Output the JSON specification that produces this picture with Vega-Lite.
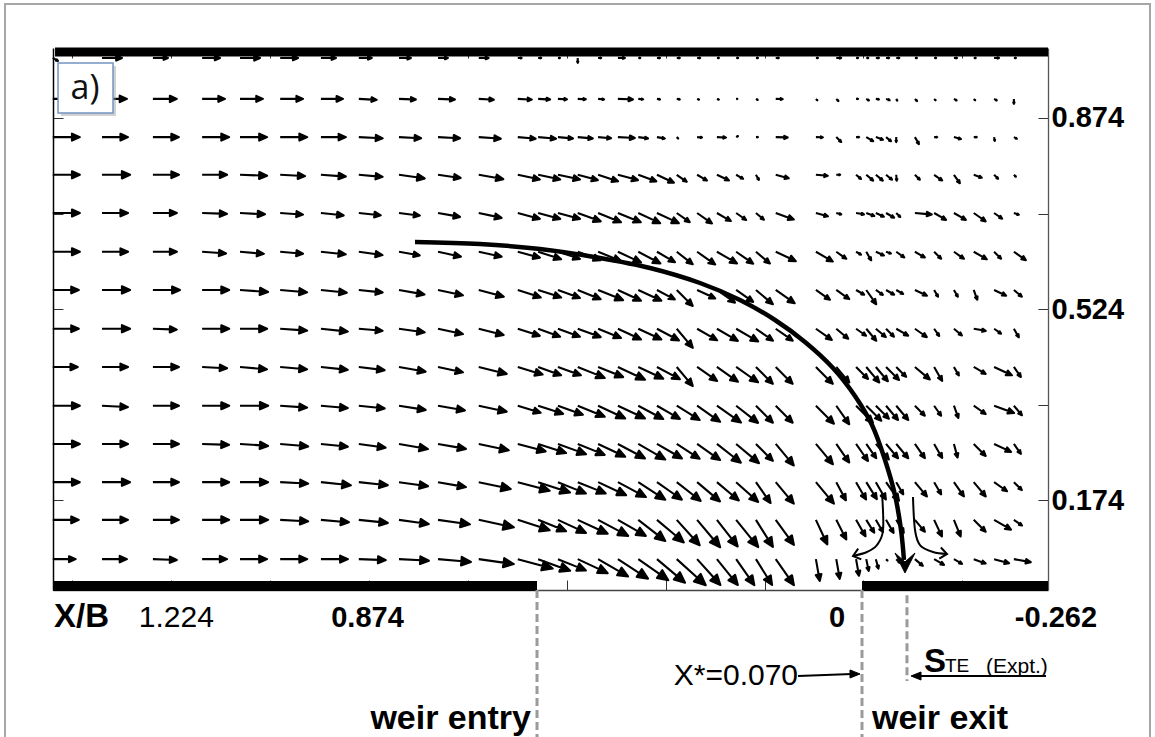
{
"$schema":"https://vega.github.io/schema/vega-lite/v6.json",
"width":995,"height":542,
"autosize":{"type":"none"},
"padding":{"left":53,"top":48,"right":107,"bottom":147},
"background":"white",
"config":{"view":{"stroke":null},"font":"Liberation Sans"},
"resolve":{"axis":{"x":"independent","y":"independent"}},
"encoding":{
 "x":{"field":"x","type":"quantitative","scale":{"domain":[-0.3263,1.4326],"reverse":true,"nice":false,"zero":false},"axis":null},
 "y":{"field":"y","type":"quantitative","scale":{"domain":[0.0095,1.0022],"nice":false,"zero":false},"axis":null}
},
"layer":[
{"data":{"values":[{"x":1.5174,"x2":-0.5066,"y":1.0828,"y2":-0.3}]},
 "mark":{"type":"rect","filled":false,"stroke":"#a6a6a6","strokeWidth":2},
 "encoding":{"x2":{"field":"x2"},"y2":{"field":"y2"}}},
{"data":{"values":[
{"x":1.433,"y":0.984,"v":0.23,"a":30},{"x":1.346,"y":0.984,"v":0.77,"a":0},{"x":1.256,"y":0.984,"v":0.58,"a":0},{"x":1.169,"y":0.984,"v":0.69,"a":0},{"x":1.102,"y":0.984,"v":0.77,"a":0},{"x":1.031,"y":0.984,"v":0.69,"a":0},{"x":0.959,"y":0.984,"v":0.58,"a":0},{"x":0.892,"y":0.984,"v":0.5,"a":0},{"x":0.821,"y":0.984,"v":0.46,"a":0},{"x":0.752,"y":0.984,"v":0.38,"a":0},{"x":0.68,"y":0.984,"v":0.38,"a":0},{"x":0.611,"y":0.984,"v":0.15,"a":0},{"x":0.575,"y":0.984,"v":0.12,"a":0},{"x":0.54,"y":0.984,"v":0.08,"a":0},{"x":0.505,"y":0.984,"v":0.19,"a":90},{"x":0.469,"y":0.984,"v":0.12,"a":0},{"x":0.434,"y":0.984,"v":0.27,"a":0},{"x":0.398,"y":0.984,"v":0.08,"a":0},{"x":0.365,"y":0.984,"v":0.12,"a":0},{"x":0.33,"y":0.984,"v":0.12,"a":0},{"x":0.294,"y":0.984,"v":0.12,"a":0},{"x":0.259,"y":0.984,"v":0.08,"a":0},{"x":0.225,"y":0.984,"v":0.08,"a":0},{"x":0.19,"y":0.984,"v":0.08,"a":0},{"x":0.155,"y":0.984,"v":0.12,"a":0},{"x":0.084,"y":0.984,"v":0.08,"a":0},{"x":0.048,"y":0.984,"v":0.19,"a":0},{"x":0.013,"y":0.984,"v":0.08,"a":0},{"x":-0.005,"y":0.984,"v":0.08,"a":0},{"x":-0.022,"y":0.984,"v":0.12,"a":0},{"x":-0.04,"y":0.984,"v":0.12,"a":0},{"x":-0.058,"y":0.984,"v":0.12,"a":0},{"x":-0.091,"y":0.984,"v":0.08,"a":0},{"x":-0.125,"y":0.984,"v":0.08,"a":0},{"x":-0.16,"y":0.984,"v":0.12,"a":0},{"x":-0.195,"y":0.984,"v":0.08,"a":0},{"x":-0.231,"y":0.984,"v":0.19,"a":0},{"x":-0.266,"y":0.984,"v":0.08,"a":0},
{"x":1.433,"y":0.909,"v":1.0,"a":0},{"x":1.346,"y":0.909,"v":0.96,"a":0},{"x":1.256,"y":0.909,"v":0.92,"a":0},{"x":1.169,"y":0.909,"v":0.88,"a":0},{"x":1.102,"y":0.909,"v":0.88,"a":0},{"x":1.031,"y":0.909,"v":0.88,"a":0},{"x":0.959,"y":0.909,"v":0.85,"a":0},{"x":0.892,"y":0.909,"v":0.69,"a":3},{"x":0.821,"y":0.909,"v":0.65,"a":2},{"x":0.752,"y":0.909,"v":0.65,"a":2},{"x":0.68,"y":0.909,"v":0.58,"a":3},{"x":0.611,"y":0.909,"v":0.54,"a":3},{"x":0.575,"y":0.909,"v":0.46,"a":3},{"x":0.54,"y":0.909,"v":0.35,"a":3},{"x":0.505,"y":0.909,"v":0.31,"a":3},{"x":0.469,"y":0.909,"v":0.23,"a":5},{"x":0.434,"y":0.909,"v":0.58,"a":2},{"x":0.398,"y":0.909,"v":0.19,"a":5},{"x":0.365,"y":0.909,"v":0.12,"a":10},{"x":0.33,"y":0.909,"v":0.12,"a":10},{"x":0.294,"y":0.909,"v":0.08,"a":20},{"x":0.259,"y":0.909,"v":0.08,"a":20},{"x":0.225,"y":0.909,"v":0.05,"a":0},{"x":0.19,"y":0.909,"v":0.08,"a":30},{"x":0.155,"y":0.909,"v":0.27,"a":2},{"x":0.084,"y":0.909,"v":0.08,"a":45},{"x":0.048,"y":0.909,"v":0.12,"a":45},{"x":0.013,"y":0.909,"v":0.08,"a":0},{"x":-0.005,"y":0.909,"v":0.12,"a":30},{"x":-0.022,"y":0.909,"v":0.12,"a":10},{"x":-0.04,"y":0.909,"v":0.15,"a":20},{"x":-0.058,"y":0.909,"v":0.08,"a":60},{"x":-0.091,"y":0.909,"v":0.12,"a":45},{"x":-0.125,"y":0.909,"v":0.08,"a":45},{"x":-0.16,"y":0.909,"v":0.12,"a":30},{"x":-0.195,"y":0.909,"v":0.08,"a":45},{"x":-0.231,"y":0.909,"v":0.12,"a":30},{"x":-0.266,"y":0.909,"v":0.19,"a":90},
{"x":1.433,"y":0.839,"v":1.04,"a":0},{"x":1.346,"y":0.839,"v":1.0,"a":0},{"x":1.256,"y":0.839,"v":1.0,"a":0},{"x":1.169,"y":0.839,"v":1.04,"a":0},{"x":1.102,"y":0.839,"v":1.04,"a":0},{"x":1.031,"y":0.839,"v":1.04,"a":0},{"x":0.959,"y":0.839,"v":0.96,"a":0},{"x":0.892,"y":0.839,"v":0.92,"a":3},{"x":0.821,"y":0.839,"v":0.85,"a":3},{"x":0.752,"y":0.839,"v":0.85,"a":3},{"x":0.68,"y":0.839,"v":0.85,"a":4},{"x":0.611,"y":0.839,"v":0.69,"a":5},{"x":0.575,"y":0.839,"v":0.69,"a":5},{"x":0.54,"y":0.839,"v":0.58,"a":5},{"x":0.505,"y":0.839,"v":0.58,"a":5},{"x":0.469,"y":0.839,"v":0.5,"a":5},{"x":0.434,"y":0.839,"v":0.65,"a":3},{"x":0.398,"y":0.839,"v":0.38,"a":8},{"x":0.365,"y":0.839,"v":0.31,"a":10},{"x":0.33,"y":0.839,"v":0.08,"a":45},{"x":0.294,"y":0.839,"v":0.19,"a":5},{"x":0.259,"y":0.839,"v":0.35,"a":3},{"x":0.225,"y":0.839,"v":0.08,"a":-30},{"x":0.19,"y":0.839,"v":0.08,"a":0},{"x":0.155,"y":0.839,"v":0.46,"a":2},{"x":0.084,"y":0.839,"v":0.27,"a":2},{"x":0.048,"y":0.839,"v":0.27,"a":45},{"x":0.013,"y":0.839,"v":0.12,"a":0},{"x":-0.005,"y":0.839,"v":0.31,"a":30},{"x":-0.022,"y":0.839,"v":0.29,"a":20},{"x":-0.04,"y":0.839,"v":0.25,"a":40},{"x":-0.058,"y":0.839,"v":0.19,"a":90},{"x":-0.091,"y":0.839,"v":0.31,"a":60},{"x":-0.125,"y":0.839,"v":0.12,"a":0},{"x":-0.16,"y":0.839,"v":0.28,"a":15},{"x":-0.195,"y":0.839,"v":0.12,"a":0},{"x":-0.231,"y":0.839,"v":0.15,"a":80},{"x":-0.266,"y":0.839,"v":0.13,"a":30},
{"x":1.433,"y":0.77,"v":1.04,"a":0},{"x":1.346,"y":0.77,"v":1.08,"a":0},{"x":1.256,"y":0.77,"v":1.0,"a":0},{"x":1.169,"y":0.77,"v":0.96,"a":0},{"x":1.102,"y":0.77,"v":1.04,"a":2},{"x":1.031,"y":0.77,"v":0.96,"a":3},{"x":0.959,"y":0.77,"v":0.96,"a":4},{"x":0.892,"y":0.77,"v":0.92,"a":5},{"x":0.821,"y":0.77,"v":1.0,"a":8},{"x":0.752,"y":0.77,"v":0.88,"a":8},{"x":0.68,"y":0.77,"v":0.96,"a":10},{"x":0.611,"y":0.77,"v":0.87,"a":12},{"x":0.575,"y":0.77,"v":0.87,"a":12},{"x":0.54,"y":0.77,"v":0.87,"a":12},{"x":0.505,"y":0.77,"v":0.8,"a":15},{"x":0.469,"y":0.77,"v":0.81,"a":18},{"x":0.434,"y":0.77,"v":0.8,"a":15},{"x":0.398,"y":0.77,"v":0.74,"a":20},{"x":0.365,"y":0.77,"v":0.72,"a":25},{"x":0.33,"y":0.77,"v":0.47,"a":35},{"x":0.294,"y":0.77,"v":0.44,"a":30},{"x":0.259,"y":0.77,"v":0.51,"a":25},{"x":0.225,"y":0.77,"v":0.31,"a":30},{"x":0.19,"y":0.77,"v":0.23,"a":60},{"x":0.155,"y":0.77,"v":0.52,"a":15},{"x":0.084,"y":0.77,"v":0.46,"a":5},{"x":0.048,"y":0.77,"v":0.15,"a":0},{"x":0.013,"y":0.77,"v":0.25,"a":40},{"x":-0.005,"y":0.77,"v":0.35,"a":40},{"x":-0.022,"y":0.77,"v":0.35,"a":40},{"x":-0.04,"y":0.77,"v":0.3,"a":40},{"x":-0.058,"y":0.77,"v":0.23,"a":85},{"x":-0.091,"y":0.77,"v":0.27,"a":45},{"x":-0.125,"y":0.77,"v":0.38,"a":35},{"x":-0.16,"y":0.77,"v":0.4,"a":55},{"x":-0.195,"y":0.77,"v":0.33,"a":20},{"x":-0.231,"y":0.77,"v":0.22,"a":45},{"x":-0.266,"y":0.77,"v":0.11,"a":45},
{"x":1.433,"y":0.7,"v":1.04,"a":0},{"x":1.346,"y":0.7,"v":1.0,"a":0},{"x":1.256,"y":0.7,"v":0.92,"a":0},{"x":1.169,"y":0.7,"v":0.96,"a":2},{"x":1.102,"y":0.7,"v":0.96,"a":3},{"x":1.031,"y":0.7,"v":0.88,"a":4},{"x":0.959,"y":0.7,"v":0.88,"a":6},{"x":0.892,"y":0.7,"v":0.85,"a":6},{"x":0.821,"y":0.7,"v":0.81,"a":7},{"x":0.752,"y":0.7,"v":0.86,"a":10},{"x":0.68,"y":0.7,"v":0.9,"a":12},{"x":0.611,"y":0.7,"v":0.88,"a":15},{"x":0.575,"y":0.7,"v":0.88,"a":15},{"x":0.54,"y":0.7,"v":0.88,"a":15},{"x":0.505,"y":0.7,"v":0.94,"a":20},{"x":0.469,"y":0.7,"v":0.95,"a":22},{"x":0.434,"y":0.7,"v":0.95,"a":22},{"x":0.398,"y":0.7,"v":0.93,"a":25},{"x":0.365,"y":0.7,"v":0.93,"a":25},{"x":0.33,"y":0.7,"v":0.61,"a":35},{"x":0.294,"y":0.7,"v":0.7,"a":35},{"x":0.259,"y":0.7,"v":0.62,"a":30},{"x":0.225,"y":0.7,"v":0.47,"a":35},{"x":0.19,"y":0.7,"v":0.4,"a":40},{"x":0.155,"y":0.7,"v":0.74,"a":20},{"x":0.084,"y":0.7,"v":0.48,"a":15},{"x":0.048,"y":0.7,"v":0.2,"a":15},{"x":0.013,"y":0.7,"v":0.31,"a":10},{"x":-0.005,"y":0.7,"v":0.33,"a":20},{"x":-0.022,"y":0.7,"v":0.34,"a":25},{"x":-0.04,"y":0.7,"v":0.36,"a":30},{"x":-0.058,"y":0.7,"v":0.22,"a":45},{"x":-0.091,"y":0.7,"v":0.65,"a":5},{"x":-0.125,"y":0.7,"v":0.53,"a":30},{"x":-0.16,"y":0.7,"v":0.53,"a":30},{"x":-0.195,"y":0.7,"v":0.56,"a":35},{"x":-0.231,"y":0.7,"v":0.38,"a":35},{"x":-0.266,"y":0.7,"v":0.2,"a":20},
{"x":1.433,"y":0.629,"v":1.04,"a":0},{"x":1.346,"y":0.629,"v":1.0,"a":0},{"x":1.256,"y":0.629,"v":0.92,"a":0},{"x":1.169,"y":0.629,"v":0.92,"a":4},{"x":1.102,"y":0.629,"v":0.92,"a":5},{"x":1.031,"y":0.629,"v":0.88,"a":5},{"x":0.959,"y":0.629,"v":0.96,"a":6},{"x":0.892,"y":0.629,"v":0.92,"a":8},{"x":0.821,"y":0.629,"v":0.81,"a":10},{"x":0.752,"y":0.629,"v":0.9,"a":12},{"x":0.68,"y":0.629,"v":0.9,"a":12},{"x":0.611,"y":0.629,"v":0.88,"a":15},{"x":0.575,"y":0.629,"v":0.93,"a":18},{"x":0.54,"y":0.629,"v":0.89,"a":18},{"x":0.505,"y":0.629,"v":0.94,"a":20},{"x":0.469,"y":0.629,"v":0.95,"a":22},{"x":0.434,"y":0.629,"v":0.98,"a":25},{"x":0.398,"y":0.629,"v":0.96,"a":28},{"x":0.365,"y":0.629,"v":0.8,"a":30},{"x":0.33,"y":0.629,"v":0.78,"a":38},{"x":0.294,"y":0.629,"v":0.85,"a":35},{"x":0.259,"y":0.629,"v":0.89,"a":30},{"x":0.225,"y":0.629,"v":0.8,"a":35},{"x":0.19,"y":0.629,"v":0.7,"a":40},{"x":0.155,"y":0.629,"v":0.85,"a":25},{"x":0.084,"y":0.629,"v":0.75,"a":30},{"x":0.048,"y":0.629,"v":0.47,"a":35},{"x":0.013,"y":0.629,"v":0.22,"a":30},{"x":-0.005,"y":0.629,"v":0.38,"a":60},{"x":-0.022,"y":0.629,"v":0.34,"a":25},{"x":-0.04,"y":0.629,"v":0.2,"a":20},{"x":-0.058,"y":0.629,"v":0.38,"a":35},{"x":-0.091,"y":0.629,"v":0.44,"a":30},{"x":-0.125,"y":0.629,"v":0.38,"a":45},{"x":-0.16,"y":0.629,"v":0.47,"a":35},{"x":-0.195,"y":0.629,"v":0.58,"a":30},{"x":-0.231,"y":0.629,"v":0.38,"a":45},{"x":-0.266,"y":0.629,"v":0.56,"a":35},
{"x":1.433,"y":0.559,"v":1.0,"a":0},{"x":1.346,"y":0.559,"v":1.08,"a":0},{"x":1.256,"y":0.559,"v":1.04,"a":0},{"x":1.169,"y":0.559,"v":1.04,"a":0},{"x":1.102,"y":0.559,"v":1.08,"a":4},{"x":1.031,"y":0.559,"v":1.04,"a":5},{"x":0.959,"y":0.559,"v":1.0,"a":6},{"x":0.892,"y":0.559,"v":0.92,"a":6},{"x":0.821,"y":0.559,"v":1.0,"a":10},{"x":0.752,"y":0.559,"v":0.98,"a":12},{"x":0.68,"y":0.559,"v":1.0,"a":15},{"x":0.611,"y":0.559,"v":0.93,"a":18},{"x":0.575,"y":0.559,"v":0.93,"a":18},{"x":0.54,"y":0.559,"v":0.9,"a":20},{"x":0.505,"y":0.559,"v":0.95,"a":22},{"x":0.469,"y":0.559,"v":1.04,"a":22},{"x":0.434,"y":0.559,"v":0.98,"a":25},{"x":0.398,"y":0.559,"v":0.98,"a":25},{"x":0.365,"y":0.559,"v":0.78,"a":28},{"x":0.33,"y":0.559,"v":0.87,"a":45},{"x":0.294,"y":0.559,"v":0.77,"a":25},{"x":0.259,"y":0.559,"v":0.85,"a":35},{"x":0.225,"y":0.559,"v":0.8,"a":35},{"x":0.19,"y":0.559,"v":0.85,"a":40},{"x":0.155,"y":0.559,"v":0.89,"a":35},{"x":0.084,"y":0.559,"v":0.66,"a":35},{"x":0.048,"y":0.559,"v":0.61,"a":35},{"x":0.013,"y":0.559,"v":0.36,"a":30},{"x":-0.005,"y":0.559,"v":0.67,"a":55},{"x":-0.022,"y":0.559,"v":0.33,"a":35},{"x":-0.04,"y":0.559,"v":0.36,"a":30},{"x":-0.058,"y":0.559,"v":0.31,"a":30},{"x":-0.091,"y":0.559,"v":0.51,"a":25},{"x":-0.125,"y":0.559,"v":0.3,"a":60},{"x":-0.16,"y":0.559,"v":0.3,"a":60},{"x":-0.195,"y":0.559,"v":0.4,"a":70},{"x":-0.231,"y":0.559,"v":0.51,"a":25},{"x":-0.266,"y":0.559,"v":0.4,"a":40},
{"x":1.433,"y":0.488,"v":1.0,"a":0},{"x":1.346,"y":0.488,"v":1.08,"a":0},{"x":1.256,"y":0.488,"v":0.92,"a":2},{"x":1.169,"y":0.488,"v":1.04,"a":0},{"x":1.102,"y":0.488,"v":1.04,"a":0},{"x":1.031,"y":0.488,"v":1.04,"a":4},{"x":0.959,"y":0.488,"v":1.04,"a":6},{"x":0.892,"y":0.488,"v":0.92,"a":5},{"x":0.821,"y":0.488,"v":1.0,"a":8},{"x":0.752,"y":0.488,"v":0.98,"a":12},{"x":0.68,"y":0.488,"v":0.99,"a":14},{"x":0.611,"y":0.488,"v":0.89,"a":18},{"x":0.575,"y":0.488,"v":0.9,"a":20},{"x":0.54,"y":0.488,"v":0.9,"a":20},{"x":0.505,"y":0.488,"v":0.94,"a":20},{"x":0.469,"y":0.488,"v":0.95,"a":22},{"x":0.434,"y":0.488,"v":0.98,"a":25},{"x":0.398,"y":0.488,"v":0.98,"a":25},{"x":0.365,"y":0.488,"v":0.96,"a":28},{"x":0.33,"y":0.488,"v":0.96,"a":50},{"x":0.294,"y":0.488,"v":0.89,"a":30},{"x":0.259,"y":0.488,"v":0.93,"a":30},{"x":0.225,"y":0.488,"v":0.98,"a":30},{"x":0.19,"y":0.488,"v":0.8,"a":35},{"x":0.155,"y":0.488,"v":0.8,"a":35},{"x":0.084,"y":0.488,"v":0.75,"a":35},{"x":0.048,"y":0.488,"v":0.6,"a":40},{"x":0.013,"y":0.488,"v":0.47,"a":35},{"x":-0.005,"y":0.488,"v":0.6,"a":50},{"x":-0.022,"y":0.488,"v":0.5,"a":40},{"x":-0.04,"y":0.488,"v":0.43,"a":45},{"x":-0.058,"y":0.488,"v":0.53,"a":30},{"x":-0.091,"y":0.488,"v":0.56,"a":35},{"x":-0.125,"y":0.488,"v":0.34,"a":55},{"x":-0.16,"y":0.488,"v":0.4,"a":40},{"x":-0.195,"y":0.488,"v":0.47,"a":10},{"x":-0.231,"y":0.488,"v":0.33,"a":35},{"x":-0.266,"y":0.488,"v":0.38,"a":60},
{"x":1.433,"y":0.418,"v":0.96,"a":0},{"x":1.346,"y":0.418,"v":1.0,"a":0},{"x":1.256,"y":0.418,"v":1.0,"a":0},{"x":1.169,"y":0.418,"v":0.96,"a":3},{"x":1.102,"y":0.418,"v":1.04,"a":5},{"x":1.031,"y":0.418,"v":1.04,"a":5},{"x":0.959,"y":0.418,"v":1.04,"a":6},{"x":0.892,"y":0.418,"v":1.0,"a":7},{"x":0.821,"y":0.418,"v":1.04,"a":10},{"x":0.752,"y":0.418,"v":0.98,"a":12},{"x":0.68,"y":0.418,"v":1.11,"a":14},{"x":0.611,"y":0.418,"v":1.0,"a":17},{"x":0.575,"y":0.418,"v":0.94,"a":20},{"x":0.54,"y":0.418,"v":0.94,"a":20},{"x":0.505,"y":0.418,"v":1.12,"a":22},{"x":0.469,"y":0.418,"v":1.04,"a":22},{"x":0.434,"y":0.418,"v":1.15,"a":25},{"x":0.398,"y":0.418,"v":1.06,"a":25},{"x":0.365,"y":0.418,"v":1.0,"a":28},{"x":0.33,"y":0.418,"v":0.96,"a":50},{"x":0.294,"y":0.418,"v":0.94,"a":35},{"x":0.259,"y":0.418,"v":0.99,"a":35},{"x":0.225,"y":0.418,"v":1.03,"a":35},{"x":0.19,"y":0.418,"v":0.92,"a":45},{"x":0.155,"y":0.418,"v":0.92,"a":45},{"x":0.084,"y":0.418,"v":0.92,"a":45},{"x":0.048,"y":0.418,"v":0.78,"a":50},{"x":0.013,"y":0.418,"v":0.65,"a":45},{"x":-0.005,"y":0.418,"v":0.78,"a":50},{"x":-0.022,"y":0.418,"v":0.72,"a":50},{"x":-0.04,"y":0.418,"v":0.71,"a":45},{"x":-0.058,"y":0.418,"v":0.54,"a":45},{"x":-0.091,"y":0.418,"v":0.75,"a":40},{"x":-0.125,"y":0.418,"v":0.62,"a":60},{"x":-0.16,"y":0.418,"v":0.38,"a":60},{"x":-0.195,"y":0.418,"v":0.53,"a":30},{"x":-0.231,"y":0.418,"v":0.76,"a":25},{"x":-0.266,"y":0.418,"v":0.47,"a":55},
{"x":1.433,"y":0.347,"v":1.04,"a":0},{"x":1.346,"y":0.347,"v":1.0,"a":3},{"x":1.256,"y":0.347,"v":1.0,"a":0},{"x":1.169,"y":0.347,"v":1.04,"a":0},{"x":1.102,"y":0.347,"v":1.08,"a":0},{"x":1.031,"y":0.347,"v":1.04,"a":4},{"x":0.959,"y":0.347,"v":1.04,"a":5},{"x":0.892,"y":0.347,"v":1.0,"a":6},{"x":0.821,"y":0.347,"v":1.04,"a":9},{"x":0.752,"y":0.347,"v":1.05,"a":10},{"x":0.68,"y":0.347,"v":1.1,"a":12},{"x":0.611,"y":0.347,"v":0.92,"a":17},{"x":0.575,"y":0.347,"v":1.01,"a":18},{"x":0.54,"y":0.347,"v":1.02,"a":20},{"x":0.505,"y":0.347,"v":1.12,"a":22},{"x":0.469,"y":0.347,"v":1.15,"a":25},{"x":0.434,"y":0.347,"v":1.15,"a":25},{"x":0.398,"y":0.347,"v":1.09,"a":28},{"x":0.365,"y":0.347,"v":1.02,"a":30},{"x":0.33,"y":0.347,"v":1.04,"a":32},{"x":0.294,"y":0.347,"v":1.08,"a":35},{"x":0.259,"y":0.347,"v":1.13,"a":35},{"x":0.225,"y":0.347,"v":1.07,"a":38},{"x":0.19,"y":0.347,"v":0.92,"a":45},{"x":0.155,"y":0.347,"v":0.92,"a":45},{"x":0.084,"y":0.347,"v":0.98,"a":45},{"x":0.048,"y":0.347,"v":0.87,"a":55},{"x":0.013,"y":0.347,"v":0.92,"a":45},{"x":-0.005,"y":0.347,"v":0.82,"a":45},{"x":-0.022,"y":0.347,"v":0.71,"a":45},{"x":-0.04,"y":0.347,"v":0.72,"a":50},{"x":-0.058,"y":0.347,"v":0.72,"a":50},{"x":-0.091,"y":0.347,"v":0.54,"a":45},{"x":-0.125,"y":0.347,"v":0.47,"a":55},{"x":-0.16,"y":0.347,"v":0.5,"a":70},{"x":-0.195,"y":0.347,"v":0.56,"a":35},{"x":-0.231,"y":0.347,"v":0.82,"a":20},{"x":-0.266,"y":0.347,"v":0.48,"a":50},
{"x":1.433,"y":0.277,"v":1.04,"a":0},{"x":1.346,"y":0.277,"v":1.0,"a":0},{"x":1.256,"y":0.277,"v":1.0,"a":0},{"x":1.169,"y":0.277,"v":1.04,"a":2},{"x":1.102,"y":0.277,"v":1.08,"a":4},{"x":1.031,"y":0.277,"v":1.08,"a":5},{"x":0.959,"y":0.277,"v":1.04,"a":6},{"x":0.892,"y":0.277,"v":1.04,"a":8},{"x":0.821,"y":0.277,"v":1.13,"a":10},{"x":0.752,"y":0.277,"v":1.09,"a":10},{"x":0.68,"y":0.277,"v":1.18,"a":12},{"x":0.611,"y":0.277,"v":1.11,"a":15},{"x":0.575,"y":0.277,"v":1.13,"a":18},{"x":0.54,"y":0.277,"v":1.15,"a":20},{"x":0.505,"y":0.277,"v":1.12,"a":22},{"x":0.469,"y":0.277,"v":1.15,"a":25},{"x":0.434,"y":0.277,"v":1.18,"a":28},{"x":0.398,"y":0.277,"v":1.2,"a":30},{"x":0.365,"y":0.277,"v":1.11,"a":30},{"x":0.33,"y":0.277,"v":1.05,"a":33},{"x":0.294,"y":0.277,"v":1.08,"a":35},{"x":0.259,"y":0.277,"v":1.17,"a":38},{"x":0.225,"y":0.277,"v":1.15,"a":40},{"x":0.19,"y":0.277,"v":0.92,"a":45},{"x":0.155,"y":0.277,"v":1.08,"a":50},{"x":0.084,"y":0.277,"v":1.02,"a":50},{"x":0.048,"y":0.277,"v":0.87,"a":55},{"x":0.013,"y":0.277,"v":0.8,"a":55},{"x":-0.005,"y":0.277,"v":0.67,"a":55},{"x":-0.022,"y":0.277,"v":0.78,"a":50},{"x":-0.04,"y":0.277,"v":0.72,"a":50},{"x":-0.058,"y":0.277,"v":0.72,"a":50},{"x":-0.091,"y":0.277,"v":0.67,"a":55},{"x":-0.125,"y":0.277,"v":0.62,"a":60},{"x":-0.16,"y":0.277,"v":0.54,"a":75},{"x":-0.195,"y":0.277,"v":0.65,"a":45},{"x":-0.231,"y":0.277,"v":0.72,"a":25},{"x":-0.266,"y":0.277,"v":0.47,"a":55},
{"x":1.433,"y":0.207,"v":1.04,"a":0},{"x":1.346,"y":0.207,"v":1.08,"a":0},{"x":1.256,"y":0.207,"v":1.0,"a":0},{"x":1.169,"y":0.207,"v":1.04,"a":0},{"x":1.102,"y":0.207,"v":1.08,"a":0},{"x":1.031,"y":0.207,"v":1.08,"a":3},{"x":0.959,"y":0.207,"v":1.16,"a":6},{"x":0.892,"y":0.207,"v":1.12,"a":6},{"x":0.821,"y":0.207,"v":1.13,"a":8},{"x":0.752,"y":0.207,"v":1.09,"a":10},{"x":0.68,"y":0.207,"v":1.26,"a":12},{"x":0.611,"y":0.207,"v":1.27,"a":15},{"x":0.575,"y":0.207,"v":1.29,"a":18},{"x":0.54,"y":0.207,"v":1.16,"a":22},{"x":0.505,"y":0.207,"v":1.16,"a":22},{"x":0.469,"y":0.207,"v":1.19,"a":25},{"x":0.434,"y":0.207,"v":1.22,"a":28},{"x":0.398,"y":0.207,"v":1.24,"a":33},{"x":0.365,"y":0.207,"v":1.17,"a":35},{"x":0.33,"y":0.207,"v":1.17,"a":38},{"x":0.294,"y":0.207,"v":1.15,"a":40},{"x":0.259,"y":0.207,"v":1.1,"a":40},{"x":0.225,"y":0.207,"v":1.14,"a":42},{"x":0.19,"y":0.207,"v":0.98,"a":55},{"x":0.155,"y":0.207,"v":1.08,"a":50},{"x":0.084,"y":0.207,"v":1.08,"a":50},{"x":0.048,"y":0.207,"v":0.79,"a":62},{"x":0.013,"y":0.207,"v":0.77,"a":60},{"x":-0.005,"y":0.207,"v":0.77,"a":58},{"x":-0.022,"y":0.207,"v":0.77,"a":60},{"x":-0.04,"y":0.207,"v":0.87,"a":55},{"x":-0.058,"y":0.207,"v":0.54,"a":60},{"x":-0.091,"y":0.207,"v":0.72,"a":50},{"x":-0.125,"y":0.207,"v":0.54,"a":60},{"x":-0.16,"y":0.207,"v":0.67,"a":55},{"x":-0.195,"y":0.207,"v":0.72,"a":50},{"x":-0.231,"y":0.207,"v":0.61,"a":35},{"x":-0.266,"y":0.207,"v":0.43,"a":45},
{"x":1.433,"y":0.138,"v":1.0,"a":0},{"x":1.346,"y":0.138,"v":1.0,"a":0},{"x":1.256,"y":0.138,"v":1.0,"a":0},{"x":1.169,"y":0.138,"v":1.04,"a":0},{"x":1.102,"y":0.138,"v":1.08,"a":0},{"x":1.031,"y":0.138,"v":1.08,"a":3},{"x":0.959,"y":0.138,"v":1.08,"a":5},{"x":0.892,"y":0.138,"v":1.12,"a":6},{"x":0.821,"y":0.138,"v":1.16,"a":8},{"x":0.752,"y":0.138,"v":1.24,"a":8},{"x":0.68,"y":0.138,"v":1.38,"a":12},{"x":0.611,"y":0.138,"v":1.29,"a":18},{"x":0.575,"y":0.138,"v":1.16,"a":22},{"x":0.54,"y":0.138,"v":1.19,"a":25},{"x":0.505,"y":0.138,"v":1.27,"a":25},{"x":0.469,"y":0.138,"v":1.31,"a":28},{"x":0.434,"y":0.138,"v":1.24,"a":30},{"x":0.398,"y":0.138,"v":1.32,"a":38},{"x":0.365,"y":0.138,"v":1.35,"a":40},{"x":0.33,"y":0.138,"v":1.32,"a":48},{"x":0.294,"y":0.138,"v":1.38,"a":50},{"x":0.259,"y":0.138,"v":1.3,"a":52},{"x":0.225,"y":0.138,"v":1.35,"a":51},{"x":0.19,"y":0.138,"v":1.23,"a":58},{"x":0.155,"y":0.138,"v":1.19,"a":54},{"x":0.084,"y":0.138,"v":1.04,"a":65},{"x":0.048,"y":0.138,"v":0.85,"a":63},{"x":0.013,"y":0.138,"v":0.73,"a":60},{"x":-0.005,"y":0.138,"v":0.58,"a":58},{"x":-0.022,"y":0.138,"v":0.54,"a":60},{"x":-0.04,"y":0.138,"v":0.58,"a":60},{"x":-0.058,"y":0.138,"v":0.58,"a":60},{"x":-0.091,"y":0.138,"v":0.6,"a":50},{"x":-0.125,"y":0.138,"v":0.71,"a":65},{"x":-0.16,"y":0.138,"v":0.69,"a":68},{"x":-0.195,"y":0.138,"v":0.65,"a":45},{"x":-0.231,"y":0.138,"v":0.75,"a":30},{"x":-0.266,"y":0.138,"v":0.38,"a":35},
{"x":1.433,"y":0.066,"v":0.88,"a":0},{"x":1.346,"y":0.066,"v":0.96,"a":0},{"x":1.256,"y":0.066,"v":0.92,"a":2},{"x":1.169,"y":0.066,"v":0.96,"a":0},{"x":1.102,"y":0.066,"v":1.04,"a":0},{"x":1.031,"y":0.066,"v":1.04,"a":0},{"x":0.959,"y":0.066,"v":1.04,"a":0},{"x":0.892,"y":0.066,"v":1.04,"a":2},{"x":0.821,"y":0.066,"v":1.15,"a":3},{"x":0.752,"y":0.066,"v":1.27,"a":5},{"x":0.68,"y":0.066,"v":1.36,"a":8},{"x":0.611,"y":0.066,"v":1.39,"a":15},{"x":0.575,"y":0.066,"v":1.31,"a":20},{"x":0.54,"y":0.066,"v":1.16,"a":22},{"x":0.505,"y":0.066,"v":1.27,"a":25},{"x":0.469,"y":0.066,"v":1.33,"a":30},{"x":0.434,"y":0.066,"v":1.38,"a":33},{"x":0.398,"y":0.066,"v":1.41,"a":35},{"x":0.365,"y":0.066,"v":1.41,"a":40},{"x":0.33,"y":0.066,"v":1.5,"a":42},{"x":0.294,"y":0.066,"v":1.34,"a":48},{"x":0.259,"y":0.066,"v":1.28,"a":51},{"x":0.225,"y":0.066,"v":1.22,"a":55},{"x":0.19,"y":0.066,"v":1.17,"a":58},{"x":0.155,"y":0.066,"v":1.22,"a":55},{"x":0.084,"y":0.066,"v":0.85,"a":80},{"x":0.048,"y":0.066,"v":0.77,"a":80},{"x":0.013,"y":0.066,"v":0.65,"a":80},{"x":-0.005,"y":0.066,"v":0.46,"a":78},{"x":-0.022,"y":0.066,"v":0.38,"a":75},{"x":-0.04,"y":0.066,"v":0.08,"a":45},{"x":-0.058,"y":0.066,"v":0.2,"a":45},{"x":-0.091,"y":0.066,"v":0.4,"a":40},{"x":-0.125,"y":0.066,"v":0.44,"a":30},{"x":-0.16,"y":0.066,"v":0.36,"a":30},{"x":-0.195,"y":0.066,"v":0.49,"a":20},{"x":-0.231,"y":0.066,"v":0.6,"a":15},{"x":-0.266,"y":0.066,"v":0.66,"a":10}
 ]},
 "mark":{"type":"point","shape":"M0,0L1.5,0M1.42,-0.26L2,0L1.42,0.26Z","filled":true,"fill":"#000","stroke":"#000","strokeWidth":2.1,"strokeJoin":"round","opacity":1},
 "encoding":{
  "x":{"field":"x","type":"quantitative","scale":{"domain":[-0.3263,1.4326],"reverse":true,"nice":false,"zero":false},
   "axis":{"orient":"bottom","values":[1.399,1.224,1.049,0.874,0.699,0.524,0.349,0.174,0,-0.175],"labels":false,"title":null,"grid":false,"tickSize":-10,"tickColor":"#333","tickWidth":1,"domainColor":"#444","domainWidth":1.3}},
  "y":{"field":"y","type":"quantitative","scale":{"domain":[0.0095,1.0022],"nice":false,"zero":false},
   "axis":{"orient":"right","values":[0.874,0.699,0.524,0.349,0.174],"format":".3f","labelExpr":"datum.value==0.874||datum.value==0.524||datum.value==0.174?datum.label:''","labelOverlap":false,"title":null,"grid":false,"tickSize":-10,"labelPadding":13,"labelFont":"Liberation Sans","labelFontWeight":"bold","labelFontSize":29,"labelColor":"#000","domainColor":"#555","domainWidth":1.3,"tickColor":"#333"}},
  "size":{"field":"v","type":"quantitative","scale":{"type":"pow","exponent":2,"domain":[0,1],"range":[0,676],"zero":true,"nice":false},"legend":null},
  "angle":{"field":"a","type":"quantitative","scale":null}
 }},
{"data":{"values":[{"x":1.429,"x2":-0.3263,"y":0.995}]},
 "mark":{"type":"rule","stroke":"#000","strokeWidth":9,"strokeCap":"butt"},
 "encoding":{
  "x":{"field":"x","type":"quantitative","scale":{"domain":[-0.3263,1.4326],"reverse":true,"nice":false,"zero":false},
   "axis":{"orient":"top","values":[1.399,1.224,1.049,0.874,0.699,0.524,0.349,0.174,0,-0.175],"labels":false,"title":null,"grid":false,"tickSize":-10,"tickColor":"#333","domain":false}},
  "y":{"field":"y","type":"quantitative","scale":{"domain":[0.0095,1.0022],"nice":false,"zero":false},
   "axis":{"orient":"left","values":[0.874,0.699,0.524,0.349,0.174],"labels":false,"title":null,"grid":false,"tickSize":-10,"tickColor":"#333","domainColor":"#000","domainWidth":1.5}},
  "x2":{"field":"x2"}}},
{"data":{"values":[{"x":1.4326,"x2":0.577,"y":0.0169},{"x":0.0025,"x2":-0.3263,"y":0.0169}]},
 "mark":{"type":"rule","stroke":"#000","strokeWidth":10,"strokeCap":"butt"},
 "encoding":{"x2":{"field":"x2"}}},
{"data":{"values":[{"x":0.577,"y":0.0095,"y2":-0.28},{"x":0.0025,"y":0.0095,"y2":-0.28},{"x":-0.077,"y":0.0,"y2":-0.157}]},
 "mark":{"type":"rule","stroke":"#9a9a9a","strokeWidth":3,"strokeDash":[8,4]},
 "encoding":{"y2":{"field":"y2"}}},
{"data":{"values":[
 {"i":0,"x":0.7927,"y":0.6469},{"i":1,"x":0.6778,"y":0.6432},{"i":2,"x":0.5717,"y":0.6341},{"i":3,"x":0.4656,"y":0.6176},{"i":4,"x":0.3773,"y":0.5993},{"i":5,"x":0.2889,"y":0.5718},{"i":6,"x":0.2182,"y":0.5407},{"i":7,"x":0.1563,"y":0.504},{"i":8,"x":0.1033,"y":0.4637},{"i":9,"x":0.0538,"y":0.4161},{"i":10,"x":0.0149,"y":0.3648},{"i":11,"x":-0.0152,"y":0.3117},{"i":12,"x":-0.0382,"y":0.2476},{"i":13,"x":-0.0558,"y":0.1835},{"i":14,"x":-0.0665,"y":0.1194},{"i":15,"x":-0.0717,"y":0.0645}]},
 "mark":{"type":"line","stroke":"#000","strokeWidth":4.5,"interpolate":"catmull-rom"},
 "encoding":{"order":{"field":"i"}}},
{"data":{"values":[{"x":-0.0735,"y":0.059}]},
 "mark":{"type":"point","shape":"M0,1L-1,-1L0,-0.1L1,-1Z","filled":true,"fill":"#000","stroke":"#000","strokeWidth":1,"size":400,"opacity":1}},
{"data":{"values":[
 {"g":"l","i":0,"x":-0.0329,"y":0.1872},{"g":"l","i":1,"x":-0.0347,"y":0.1194},{"g":"l","i":2,"x":-0.024,"y":0.0919},{"g":"l","i":3,"x":-0.0063,"y":0.0791},{"g":"l","i":4,"x":0.0184,"y":0.0718},
 {"g":"r","i":0,"x":-0.0876,"y":0.1799},{"g":"r","i":1,"x":-0.0912,"y":0.1194},{"g":"r","i":2,"x":-0.1,"y":0.0919},{"g":"r","i":3,"x":-0.123,"y":0.0791},{"g":"r","i":4,"x":-0.1478,"y":0.0755}]},
 "mark":{"type":"line","stroke":"#000","strokeWidth":2,"interpolate":"cardinal"},
 "encoding":{"detail":{"field":"g"},"order":{"field":"i"}}},
{"data":{"values":[{"x":0.0184,"y":0.0718,"a":164},{"x":-0.1478,"y":0.0755,"a":8}]},
 "mark":{"type":"point","shape":"M-1,-0.8L0,0L-1,0.8","filled":false,"stroke":"#000","strokeWidth":2,"size":196,"opacity":1},
 "encoding":{"angle":{"field":"a","type":"quantitative","scale":null}}},
{"data":{"values":[{"x":0.1156,"y":-0.148,"x2":0.0202,"y2":-0.1443},{"x":-0.3228,"y":-0.148,"x2":-0.0965,"y2":-0.148}]},
 "mark":{"type":"rule","stroke":"#000","strokeWidth":2},
 "encoding":{"x2":{"field":"x2"},"y2":{"field":"y2"}}},
{"data":{"values":[{"x":0.0149,"y":-0.1443,"a":0},{"x":-0.093,"y":-0.148,"a":180}]},
 "mark":{"type":"point","shape":"M1,0L-1,-0.8L-1,0.8Z","filled":true,"fill":"#000","stroke":"#000","strokeWidth":1,"size":100,"opacity":1},
 "encoding":{"angle":{"field":"a","type":"quantitative","scale":null}}},
{"data":{"values":[{"x":1.4308,"y":-0.0582,"t":"X/B"}]},
 "mark":{"type":"text","font":"Liberation Sans","fontWeight":"bold","fontSize":33,"align":"left","baseline":"alphabetic","color":"#000"},
 "encoding":{"text":{"field":"t"}}},
{"data":{"values":[{"x":1.2145,"y":-0.0582,"t":"1.224"}]},
 "mark":{"type":"text","font":"Liberation Sans","fontWeight":"normal","fontSize":30,"align":"center","baseline":"alphabetic","color":"#000"},
 "encoding":{"text":{"field":"t"}}},
{"data":{"values":[{"x":0.8766,"y":-0.0582,"t":"0.874"},{"x":0.0467,"y":-0.0582,"t":"0"},{"x":-0.3404,"y":-0.0582,"t":"-0.262"}]},
 "mark":{"type":"text","font":"Liberation Sans","fontWeight":"bold","fontSize":29,"align":"center","baseline":"alphabetic","color":"#000"},
 "encoding":{"text":{"field":"t"}}},
{"data":{"values":[{"x":0.1156,"y":-0.148,"t":"X*=0.070"}]},
 "mark":{"type":"text","font":"Liberation Sans","fontWeight":"normal","fontSize":30,"align":"right","baseline":"middle","color":"#000"},
 "encoding":{"text":{"field":"t"}}},
{"data":{"values":[{"x":0.5876,"y":-0.245,"t":"weir entry"}]},
 "mark":{"type":"text","font":"Liberation Sans","fontWeight":"bold","fontSize":34,"align":"right","baseline":"alphabetic","color":"#000"},
 "encoding":{"text":{"field":"t"}}},
{"data":{"values":[{"x":-0.0152,"y":-0.245,"t":"weir exit"}]},
 "mark":{"type":"text","font":"Liberation Sans","fontWeight":"bold","fontSize":34,"align":"left","baseline":"alphabetic","color":"#000"},
 "encoding":{"text":{"field":"t"}}},
{"data":{"values":[{"x":-0.1071,"y":-0.1407,"t":"S"}]},
 "mark":{"type":"text","font":"Liberation Sans","fontWeight":"bold","fontSize":33,"align":"left","baseline":"alphabetic","color":"#000"},
 "encoding":{"text":{"field":"t"}}},
{"data":{"values":[{"x":-0.1442,"y":-0.1407,"t":"TE"}]},
 "mark":{"type":"text","font":"Liberation Sans","fontWeight":"normal","fontSize":19,"align":"left","baseline":"alphabetic","color":"#000"},
 "encoding":{"text":{"field":"t"}}},
{"data":{"values":[{"x":-0.2167,"y":-0.1425,"t":"(Expt.)"}]},
 "mark":{"type":"text","font":"Liberation Sans","fontWeight":"normal","fontSize":21,"align":"left","baseline":"alphabetic","color":"#000"},
 "encoding":{"text":{"field":"t"}}},
{"data":{"values":[{"x":1.4184,"x2":1.3212,"y":0.9692,"y2":0.8777}]},
 "mark":{"type":"rect","fill":"#9a9a9a","opacity":0.45},
 "encoding":{"x2":{"field":"x2"},"y2":{"field":"y2"}}},
{"data":{"values":[{"x":1.4237,"x2":1.3265,"y":0.9747,"y2":0.8832}]},
 "mark":{"type":"rect","fill":"#ffffff","stroke":"#7393c0","strokeWidth":1.5},
 "encoding":{"x2":{"field":"x2"},"y2":{"field":"y2"}}},
{"data":{"values":[{"x":1.376,"y":0.927,"t":"a)"}]},
 "mark":{"type":"text","font":"Open Sans","fontWeight":"normal","fontSize":34,"align":"center","baseline":"middle","color":"#111"},
 "encoding":{"text":{"field":"t"}}}
]
}
